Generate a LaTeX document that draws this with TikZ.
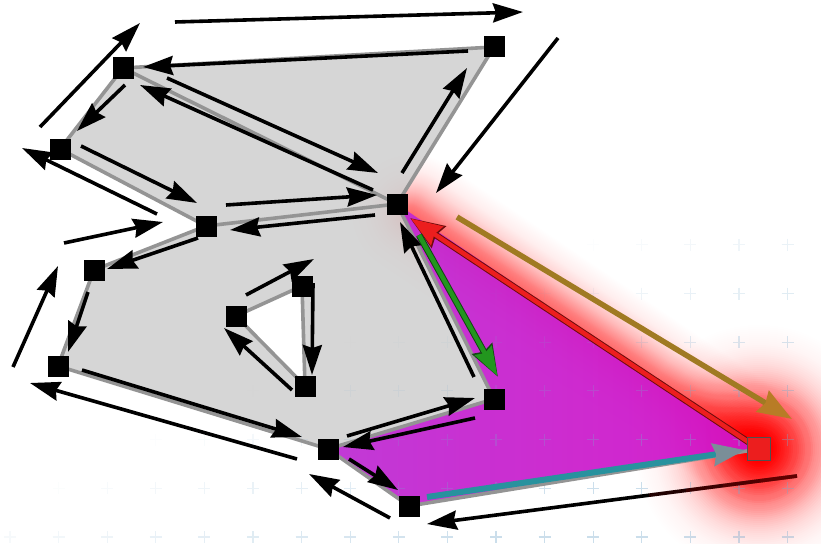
\documentclass[tikz,border=0pt]{standalone}
\usetikzlibrary{arrows.meta,calc}
\definecolor{facegrey}{RGB}{207,207,207}
\definecolor{edgegrey}{RGB}{148,148,148}
\definecolor{purpleA}{RGB}{190,46,212}
\definecolor{purpleB}{RGB}{212,18,200}
\definecolor{hlred}{RGB}{236,30,30}
\definecolor{hldark}{RGB}{110,12,12}
\definecolor{goldarrow}{RGB}{160,122,34}
\definecolor{goldtip}{RGB}{184,124,38}
\definecolor{heteal}{RGB}{40,146,158}
\definecolor{tealtip}{RGB}{122,142,152}
\definecolor{hegreen}{RGB}{34,150,30}
\definecolor{hegreendark}{RGB}{20,70,20}
\definecolor{gridc}{RGB}{120,170,205}
\definecolor{vtxborder}{RGB}{80,80,80}
\newcommand\halfedge[3]{\coordinate (#1s) at (#2); \coordinate (#1e) at (#3); \draw[hedge] (#1s) -- (#1e);}
\begin{document}
\begin{tikzpicture}[x=1pt,y=-1pt,
  edgeline/.style={draw=edgegrey, line width=3.6pt, line cap=round},
  hedge/.style={black, line width=3.6pt, -{Stealth[length=30pt,width=19pt,inset=3pt]}},
  vtx/.style={rectangle, fill=black, draw=none, minimum size=21pt, inner sep=0pt},
  redvtx/.style={rectangle, fill=hlred, draw=vtxborder, line width=1pt, minimum size=23pt, inner sep=0pt}]
\useasboundingbox (0,0) rectangle (821,543);
\fill[white] (0,0) rectangle (821,543);
% vertices
\coordinate (A) at (494,47);
\coordinate (B) at (123,68);
\coordinate (C) at (60,149);
\coordinate (D) at (206,226);
\coordinate (E) at (94,270);
\coordinate (F) at (58,366);
\coordinate (G) at (328,449);
\coordinate (H) at (409,506);
\coordinate (I) at (759,449);
\coordinate (J) at (397,204);
\coordinate (K) at (494,399);
\coordinate (L) at (236,316);
\coordinate (M) at (302,286);
\coordinate (N) at (305,386);
% glow (behind the faces), gaussian-like falloff
\coordinate (glowstart) at ($(J)!0.04!(I)$);
\foreach \h in {1,...,90} {
  \pgfmathsetmacro\o{0.019*exp(-(\h/40)^2)}
  \draw[red, opacity=\o, line width=2*\h*1pt, line cap=round] (glowstart) -- (I);
}
\foreach \r in {2,4,...,130} {
  \pgfmathsetmacro\o{0.075*exp(-(\r/66)^2)}
  \fill[red, opacity=\o] (I) circle (\r pt);
}
% faces
\fill[facegrey, opacity=0.85, even odd rule] (A)--(B)--(C)--(D)--(E)--(F)--(G)--(K)--(J)--cycle (L)--(M)--(N)--cycle;
\shade[left color=purpleA, right color=purpleB, opacity=0.94] (J)--(K)--(G)--(H)--(I)--cycle;
% grid
\foreach \i in {0,...,16} {
  \foreach \j in {0,...,6} {
    \pgfmathsetmacro\cx{10+48.6*\i}
    \pgfmathsetmacro\cy{537-48.7*\j}
    \pgfmathsetmacro\op{max(0.0,min(0.38,(\cx+2.2*\cy-1100)/1500))}
    \draw[gridc, line width=1.1pt, opacity=\op] (\cx-6,\cy) -- (\cx+6,\cy) (\cx,\cy-6) -- (\cx,\cy+6);
  }
}
% edges
\draw[edgeline] (A)--(B)--(C)--(D)--(E)--(F)--(G)--(K)--(J)--(A);
\draw[edgeline] (B)--(J) (D)--(J) (G)--(H)--(I);
\draw[edgeline] (L)--(M)--(N)--cycle;
% black half-edges
\halfedge{h1}{175,22}{523,12}
\halfedge{h2}{468,51}{143,67}
\halfedge{h3}{40,127}{140,23}
\halfedge{h4}{125,85}{77,131}
\halfedge{h5}{157,214}{22,148}
\halfedge{h6}{81,146}{197,203}
\halfedge{h7}{167,78}{378,173}
\halfedge{h8}{373,190}{140,85}
\halfedge{h9}{226,205}{377,195}
\halfedge{h10}{375,215}{230,230}
\halfedge{h11}{64,243}{163,222}
\halfedge{h12}{198,238}{107,269}
\halfedge{h13}{88,292}{68,352}
\halfedge{h14}{13,367}{58,266}
\halfedge{h15}{82,370}{302,437}
\halfedge{h16}{297,459}{30,383}
\halfedge{h17}{347,436}{475,398}
\halfedge{h18}{475,418}{343,447}
\halfedge{h19}{474,377}{400,222}
\halfedge{h25}{349,459}{398,490}
\halfedge{h26}{390,518}{309,474}
\halfedge{h27}{402,173}{467,68}
\halfedge{h28}{558,38}{436,193}
\halfedge{h29}{246,295}{314,259}
\halfedge{h30}{313,283}{312,375}
\halfedge{h31}{292,390}{224,328}
\halfedge{h24}{797,476}{427,524}
% reddish tint on the right end of the lower outer half-edge
\foreach \f in {0.1,0.2,0.3,0.4} \draw[red!70!black, opacity=0.18, line width=3.6pt] (h24s) -- ($(h24s)!\f!(h24e)$);
% coloured half-edges
\coordinate (redtip) at (410,218);
\draw[hldark, line width=6.5pt, -{Stealth[length=34pt,width=25pt,inset=3pt]}] (I) -- (redtip);
\draw[hlred, line width=4.5pt, shorten >=1.2pt, -{Stealth[length=31pt,width=22pt,inset=3pt]}] (I) -- (redtip);
\coordinate (gs) at (419,235); \coordinate (ge) at (498,377);
\draw[hegreendark, line width=6.5pt, -{Stealth[length=32pt,width=22pt,inset=3pt]}] (gs) -- (ge);
\draw[hegreen, line width=4.5pt, shorten >=1.2pt, -{Stealth[length=29pt,width=19pt,inset=3pt]}] (gs) -- (ge);
\coordinate (os) at (457,217); \coordinate (oe) at (792,419);
\draw[goldarrow, line width=5.5pt, -{Stealth[length=34pt,width=24pt,inset=3pt,color=goldtip]}] (os) -- (oe);
\coordinate (ts) at (427,497); \coordinate (te) at (745,450);
\draw[heteal, line width=6pt, -{Stealth[length=32pt,width=22pt,inset=3pt,color=tealtip]}] (ts) -- (te);
% vertex squares
\foreach \v in {A,B,C,D,E,F,G,H,J,K,L,M,N} \node[vtx] (v\v) at (\v) {};
\node[redvtx] (vI) at (I) {};
\end{tikzpicture}
\end{document}
